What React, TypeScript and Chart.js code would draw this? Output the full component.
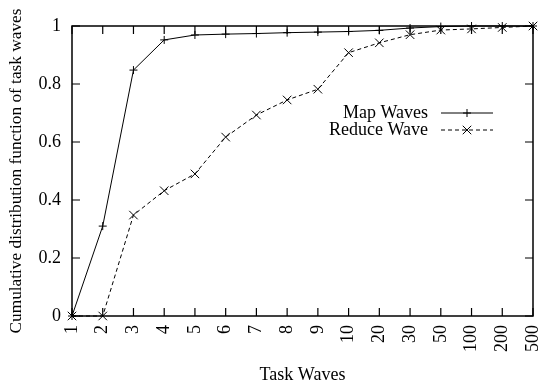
import { useEffect, useRef } from 'react';
import { Chart, registerables } from 'chart.js';
Chart.register(...registerables);

const categories = ['1', '2', '3', '4', '5', '6', '7', '8', '9', '10', '20', '30', '50', '100', '200', '500'];
const mapWaves = [0, 0.31, 0.848, 0.952, 0.969, 0.972, 0.974, 0.977, 0.979, 0.981, 0.985, 0.993, 0.998, 1, 1, 1];
const reduceWave = [0, 0, 0.348, 0.432, 0.49, 0.617, 0.693, 0.745, 0.782, 0.908, 0.942, 0.97, 0.986, 0.99, 0.995, 1];
const seriesNames = ['Map Waves', 'Reduce Wave'];
const xTitle = 'Task Waves';
const yTitle = 'Cumulative distribution function of task waves';
const yMin = 0;
const yMax = 1;
const yStep = 0.2;

const FONT = '"Liberation Serif", "Times New Roman", serif';
const FS = 18;

const framePlugin = {
  id: 'gnuFrame',
  afterDraw(chart: any) {
    const { ctx, chartArea, scales } = chart;
    const { left, right, top, bottom } = chartArea;
    const xs = scales.x;
    const ys = scales.y;
    ctx.save();
    ctx.strokeStyle = '#000';
    ctx.lineWidth = 1.5;
    ctx.setLineDash([]);
    ctx.strokeRect(left, top, right - left, bottom - top);
    const L = 8;
    ctx.lineWidth = 1.2;
    ctx.beginPath();
    xs.ticks.forEach((_: any, i: number) => {
      const px = xs.getPixelForTick(i);
      ctx.moveTo(px, bottom);
      ctx.lineTo(px, bottom - L);
      ctx.moveTo(px, top);
      ctx.lineTo(px, top + L);
    });
    ys.ticks.forEach((_: any, i: number) => {
      const py = ys.getPixelForTick(i);
      ctx.moveTo(left, py);
      ctx.lineTo(left + L, py);
      ctx.moveTo(right, py);
      ctx.lineTo(right - L, py);
    });
    ctx.stroke();

    // legend
    const textRight = right - 105;
    const lineStart = right - 92;
    const lineEnd = right - 40;
    const rowY = [top + 87, top + 104];
    ctx.font = `${FS}px ${FONT}`;
    ctx.fillStyle = '#000';
    ctx.textAlign = 'right';
    ctx.textBaseline = 'middle';
    chart.data.datasets.forEach((ds: any, i: number) => {
      const yy = rowY[i];
      ctx.fillText(ds.label, textRight, yy);
      ctx.lineWidth = 1;
      ctx.setLineDash(ds.borderDash || []);
      ctx.beginPath();
      ctx.moveTo(lineStart, yy);
      ctx.lineTo(lineEnd, yy);
      ctx.stroke();
      ctx.setLineDash([]);
      const cx = (lineStart + lineEnd) / 2;
      ctx.beginPath();
      if (ds.pointStyle === 'cross') {
        const r = ds.pointRadius;
        ctx.moveTo(cx - r, yy);
        ctx.lineTo(cx + r, yy);
        ctx.moveTo(cx, yy - r);
        ctx.lineTo(cx, yy + r);
      } else {
        const r = ds.pointRadius * Math.cos(Math.PI / 4);
        ctx.moveTo(cx - r, yy - r);
        ctx.lineTo(cx + r, yy + r);
        ctx.moveTo(cx - r, yy + r);
        ctx.lineTo(cx + r, yy - r);
      }
      ctx.stroke();
    });
    ctx.restore();
  },
};

export default function App() {
  const ref = useRef<HTMLCanvasElement | null>(null);
  useEffect(() => {
    document.body.style.margin = '0';
    if (!ref.current) return;
    const chart = new Chart(ref.current, {
      type: 'line',
      data: {
        labels: categories,
        datasets: [
          {
            label: seriesNames[0],
            data: mapWaves,
            borderColor: '#000',
            backgroundColor: '#000',
            borderWidth: 1,
            pointStyle: 'cross',
            pointRadius: 4,
            pointBorderWidth: 1,
            pointBorderColor: '#000',
            tension: 0,
            fill: false,
            clip: false as any,
          },
          {
            label: seriesNames[1],
            data: reduceWave,
            borderColor: '#000',
            backgroundColor: '#000',
            borderWidth: 1,
            borderDash: [4, 3],
            pointStyle: 'crossRot',
            pointRadius: 6,
            pointBorderWidth: 1,
            pointBorderColor: '#000',
            tension: 0,
            fill: false,
            clip: false as any,
          },
        ],
      },
      options: {
        responsive: false,
        animation: false,
        layout: { padding: { top: 26, right: 7, left: 0, bottom: 0 } },
        plugins: {
          legend: { display: false },
          tooltip: { enabled: false },
        },
        scales: {
          x: {
            type: 'category',
            offset: false,
            grid: { display: false, drawTicks: false },
            border: { display: false },
            ticks: {
              color: '#000',
              font: { family: FONT, size: FS },
              maxRotation: 90,
              minRotation: 90,
              padding: 9,
              autoSkip: false,
            },
            title: {
              display: true,
              text: xTitle,
              color: '#000',
              font: { family: FONT, size: FS },
              padding: { top: 0, bottom: 2 },
            },
            afterFit: (s: any) => {
              s.height = 72;
              s.paddingLeft = 0;
              s.paddingRight = 0;
            },
          },
          y: {
            min: yMin,
            max: yMax,
            grid: { display: false, drawTicks: false },
            border: { display: false },
            ticks: {
              stepSize: yStep,
              color: '#000',
              font: { family: FONT, size: FS },
              padding: 11,
              callback: (v: any) => String(Number(Number(v).toFixed(2))),
            },
            title: {
              display: true,
              text: yTitle,
              color: '#000',
              font: { family: FONT, size: 17.3 },
              padding: { top: 6, bottom: 0 },
            },
            afterFit: (s: any) => {
              s.width = 72;
              s.paddingTop = 0;
              s.paddingBottom = 0;
            },
          },
        },
      },
      plugins: [framePlugin],
    });
    return () => chart.destroy();
  }, []);
  return (
    <div style={{ width: 540, height: 388, background: '#fff' }}>
      <canvas ref={ref} width={540} height={388} style={{ display: 'block' }} />
    </div>
  );
}
